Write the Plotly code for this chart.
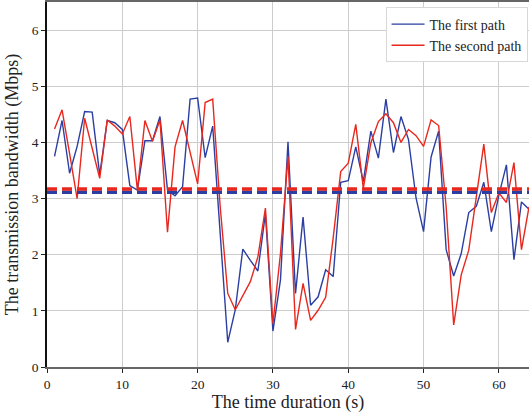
import plotly.graph_objects as go

time_s = list(range(1, 65))
first_path = [3.75, 4.39, 3.45, 3.93, 4.55, 4.54, 3.42, 4.39, 4.35, 4.23,
              3.23, 3.15, 4.03, 4.03, 4.46, 3.15, 3.05, 3.21, 4.77, 4.79,
              3.73, 4.29, 2.37, 0.44, 1.02, 2.10, 1.90, 1.71, 2.73, 0.64,
              1.55, 4.01, 1.31, 2.67, 1.10, 1.25, 1.73, 1.61, 3.29, 3.32,
              3.92, 3.30, 4.20, 3.72, 4.77, 3.82, 4.46, 4.05, 3.01, 2.41,
              3.74, 4.20, 2.09, 1.62, 2.02, 2.75, 2.86, 3.29, 2.41, 3.06,
              3.60, 1.91, 2.94, 2.81]
second_path = [4.24, 4.58, 3.80, 3.00, 4.43, 3.90, 3.36, 4.40, 4.29, 4.15,
               4.46, 3.15, 4.39, 4.02, 4.40, 2.40, 3.92, 4.39, 3.82, 3.26,
               4.71, 4.77, 2.85, 1.31, 1.02, 1.28, 1.52, 1.96, 2.83, 0.77,
               2.02, 3.75, 0.67, 1.49, 0.83, 1.01, 1.24, 2.30, 3.48, 3.63,
               4.32, 3.18, 3.99, 4.37, 4.51, 4.35, 4.00, 4.23, 4.12, 3.93,
               4.40, 4.30, 2.85, 0.75, 1.64, 2.08, 2.98, 3.97, 2.75, 3.10,
               2.93, 3.64, 2.09, 2.85]
first_mean = 3.11
second_mean = 3.17
x_span = [0, 64]

BLUE = "#2b3fa3"
RED = "#e8281e"
FONT = "Liberation Serif"

fig = go.Figure()
fig.add_trace(go.Scatter(x=time_s, y=first_path, mode="lines", name="The first path",
                         line=dict(color=BLUE, width=1.4)))
fig.add_trace(go.Scatter(x=time_s, y=second_path, mode="lines", name="The second path",
                         line=dict(color=RED, width=1.4)))
fig.add_trace(go.Scatter(x=x_span, y=[first_mean, first_mean], mode="lines", showlegend=False,
                         line=dict(color=BLUE, width=3.5, dash="10px,5px")))
fig.add_trace(go.Scatter(x=x_span, y=[second_mean, second_mean], mode="lines", showlegend=False,
                         line=dict(color=RED, width=3.5, dash="10px,5px")))

fig.update_layout(
    width=530, height=415,
    margin=dict(l=47, r=1, t=2, b=48),
    paper_bgcolor="white", plot_bgcolor="white",
    font=dict(family=FONT, color="#222", size=13),
    legend=dict(x=0.997, y=0.985, xanchor="right", yanchor="top",
                bgcolor="white", bordercolor="#d8d8d8", borderwidth=1,
                font=dict(family=FONT, size=14), tracegroupgap=0,
                itemwidth=33),
)
fig.update_xaxes(
    range=x_span, tickvals=[0, 10, 20, 30, 40, 50, 60],
    showgrid=True, gridcolor="#cccccc", gridwidth=1,
    showline=True, linecolor="#666666", linewidth=2, mirror=True,
    ticks="outside", ticklen=4, tickcolor="#222",
    tickfont=dict(family=FONT, size=13.5),
    title=dict(text="The time duration (s)", font=dict(family=FONT, size=18), standoff=2),
    zeroline=False,
)
fig.update_yaxes(
    range=[0, 6.5], tickvals=[0, 1, 2, 3, 4, 5, 6],
    showgrid=True, gridcolor="#cccccc", gridwidth=1,
    showline=True, linecolor="#111111", linewidth=1.5,
    ticks="outside", ticklen=4, tickcolor="#222",
    tickfont=dict(family=FONT, size=13.5),
    title=dict(text="The transmission bandwidth (Mbps)", font=dict(family=FONT, size=18), standoff=8),
    zeroline=False,
)

fig.write_html("out.html", config={"displayModeBar": False},
               post_script="document.body.style.margin='0';")
